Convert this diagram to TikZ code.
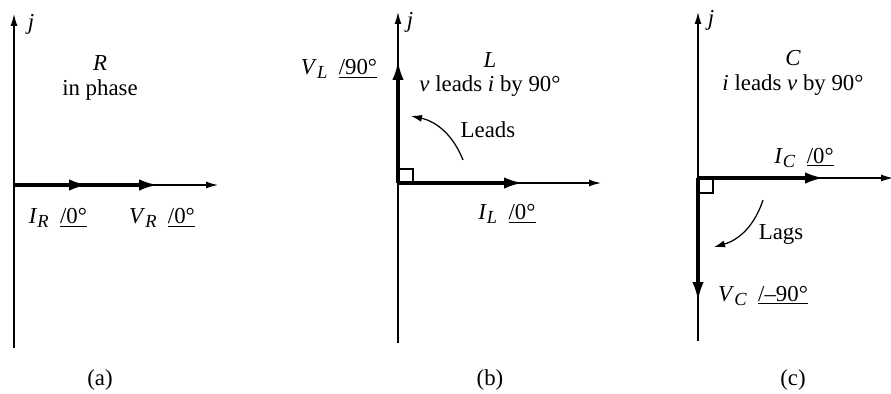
\documentclass[tikz,border=0pt]{standalone}
\usepackage{fontspec}
\setmainfont{Liberation Serif}
\usetikzlibrary{arrows.meta}
\newcommand{\phang}[1]{\underline{/#1}}
\newcommand{\phlabel}[3]{\textit{#1}\raisebox{-0.45ex}{\fontsize{10.5}{12}\selectfont\textit{#2}}\ \ \phang{#3}}

\begin{document}
\begin{tikzpicture}[x=0.02cm, y=-0.02cm,
    font=\fontsize{13}{15}\selectfont,
    axis/.style={line width=0.7pt, -{Latex[length=2.4mm, width=1.4mm]}},
    vec/.style={line width=1.9pt, -{Latex[length=3.8mm, width=2.3mm]}},
    turn/.style={line width=0.7pt, -{Latex[length=2.2mm, width=1.4mm]}},
    sq/.style={line width=0.7pt}]
  \useasboundingbox (0,0) rectangle (891,394);

  % (a) resistor
  \coordinate (oa) at (14,185);
  \coordinate (ja) at (14,14);
  \coordinate (ba) at (14,348);
  \coordinate (xa) at (218,185);
  \coordinate (ia) at (88,185);
  \coordinate (va) at (158,185);
  \draw[line width=0.7pt] (ba) -- (oa);
  \draw[axis] (oa) -- (ja);
  \draw[axis] (oa) -- (xa);
  \draw[vec] (oa) -- (va);
  \draw[vec] (oa) -- (ia);
  \node (jlaba) at (31,24) {\textit{j}};
  \node (ra) at (100,63) {\textit{R}};
  \node (pha) at (100,90) {in phase};
  \node (ilaba) at (58,218) {\phlabel{I}{R}{0°}};
  \node (vlaba) at (162,218) {\phlabel{V}{R}{0°}};
  \node (capa) at (100,380) {(a)};

  % (b) inductor
  \coordinate (ob) at (398,183);
  \coordinate (jb) at (398,12);
  \coordinate (bb) at (398,343);
  \coordinate (xb) at (601,183);
  \coordinate (ib) at (523,183);
  \coordinate (vb) at (398,61);
  \draw[line width=0.7pt] (bb) -- (ob);
  \draw[axis] (ob) -- (jb);
  \draw[axis] (ob) -- (xb);
  \draw[vec] (ob) -- (ib);
  \draw[vec] (ob) -- (vb);
  \draw[sq] (ob) rectangle +(15,-14);
  \coordinate (lb1) at (463,160);
  \coordinate (lb2) at (411,116);
  \draw[turn] (lb1) to[bend right=28] (lb2);
  \node (jlabb) at (410,22) {\textit{j}};
  \node (rb) at (490,60) {\textit{L}};
  \node (phb) at (490,86) {\textit{v} leads \textit{i} by 90°};
  \node (leadb) at (488,130) {Leads};
  \node (vlabb) at (339,69) {\phlabel{V}{L}{90°}};
  \node (ilabb) at (507,214) {\phlabel{I}{L}{0°}};
  \node (capb) at (490,380) {(b)};

  % (c) capacitor
  \coordinate (oc) at (698,178);
  \coordinate (jc) at (698,12);
  \coordinate (bc) at (698,341);
  \coordinate (xc) at (893,178);
  \coordinate (ic) at (824,178);
  \coordinate (vc) at (698,301);
  \draw[line width=0.7pt] (bc) -- (oc);
  \draw[axis] (oc) -- (jc);
  \draw[axis] (oc) -- (xc);
  \draw[vec] (oc) -- (ic);
  \draw[vec] (oc) -- (vc);
  \draw[sq] (oc) rectangle +(15,15);
  \coordinate (lc1) at (763,200);
  \coordinate (lc2) at (714,247);
  \draw[turn] (lc1) to[bend left=28] (lc2);
  \node (jlabc) at (711,20) {\textit{j}};
  \node (rc) at (793,58) {\textit{C}};
  \node (phc) at (793,85) {\textit{i} leads \textit{v} by 90°};
  \node (lagc) at (781,234) {Lags};
  \node (ilabc) at (804,158) {\phlabel{I}{C}{0°}};
  \node (vlabc) at (763,296) {\phlabel{V}{C}{–90°}};
  \node (capc) at (793,380) {(c)};
\end{tikzpicture}
\end{document}
